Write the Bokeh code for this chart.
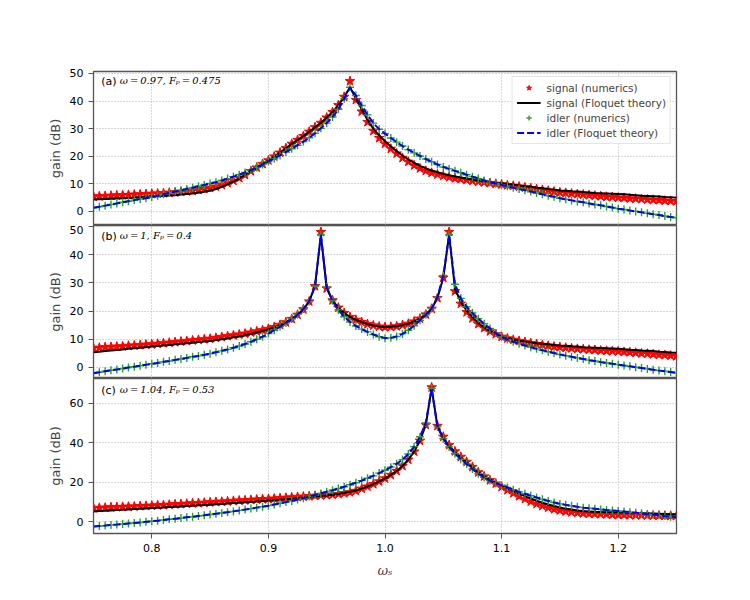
import numpy as np
from bokeh.plotting import figure
from bokeh.layouts import column
from bokeh.models import FixedTicker, Label, Legend, LegendItem, Range1d
from bokeh.embed import file_html
from bokeh.resources import INLINE

# signal frequency grid (omega_s), 0.75 ... 1.25 in steps of 0.005
omega_s = np.round(0.75 + 0.005 * np.arange(101), 3)

# ---------------- panel (a): omega = 0.97, F_p = 0.475 ----------------
a_sig_num = [5.4, 5.5, 5.6, 5.7, 5.8, 5.9, 6.0, 6.1, 6.2, 6.3,
             6.4, 6.5, 6.6, 6.8, 6.9, 7.1, 7.3, 7.5, 7.8, 8.1,
             8.5, 9.0, 9.6, 10.3, 11.1, 12.1, 13.2, 14.6, 15.9, 17.2,
             18.5, 19.9, 21.3, 22.9, 24.5, 25.9, 27.3, 28.9, 30.5, 32.1,
             34.0, 36.0, 38.5, 41.5, 47.2, 40.4, 36.2, 32.4, 29.2, 26.6,
             24.5, 22.7, 21.0, 19.4, 18.0, 16.7, 15.6, 14.7, 14.0, 13.4,
             12.9, 12.4, 12.0, 11.7, 11.4, 11.1, 10.8, 10.5, 10.3, 10.0,
             9.8, 9.5, 9.3, 9.0, 8.7, 8.4, 8.1, 7.8, 7.5, 7.2,
             6.9, 6.7, 6.5, 6.3, 6.1, 5.9, 5.7, 5.5, 5.3, 5.2,
             5.0, 4.9, 4.7, 4.6, 4.5, 4.3, 4.2, 4.1, 3.9, 3.8, 3.7]
a_sig_flq = [4.3, 4.4, 4.5, 4.6, 4.7, 4.8, 4.9, 5.0, 5.1, 5.2,
             5.4, 5.5, 5.6, 5.8, 5.9, 6.1, 6.3, 6.5, 6.8, 7.1,
             7.5, 8.1, 8.9, 9.8, 10.8, 12.0, 13.3, 14.6, 15.9, 17.2,
             18.5, 19.9, 21.3, 22.9, 24.5, 25.9, 27.3, 28.9, 30.5, 32.1,
             34.0, 36.0, 38.5, 41.5, 45.0, 41.0, 37.0, 33.2, 30.0, 27.5,
             25.4, 23.5, 21.8, 20.2, 18.8, 17.6, 16.5, 15.6, 14.8, 14.2,
             13.6, 13.1, 12.7, 12.3, 11.9, 11.6, 11.2, 10.9, 10.6, 10.4,
             10.2, 9.9, 9.7, 9.4, 9.1, 8.9, 8.6, 8.4, 8.1, 7.9,
             7.6, 7.5, 7.3, 7.2, 7.0, 6.9, 6.7, 6.6, 6.5, 6.4,
             6.3, 6.2, 6.0, 5.9, 5.7, 5.6, 5.5, 5.4, 5.2, 5.1, 5.0]
a_idl = [1.3, 1.7, 2.1, 2.5, 2.9, 3.3, 3.7, 4.1, 4.5, 4.8,
         5.2, 5.7, 6.2, 6.7, 7.2, 7.6, 8.1, 8.6, 9.1, 9.6,
         10.1, 10.6, 11.2, 11.9, 12.6, 13.3, 14.1, 15.0, 15.9, 17.0,
         18.1, 19.2, 20.3, 21.5, 22.7, 24.0, 25.3, 26.7, 28.3, 30.1,
         32.0, 34.2, 37.0, 40.8, 45.0, 42.0, 38.4, 35.0, 32.0, 29.8,
         28.2, 26.6, 25.1, 23.7, 22.4, 21.2, 20.1, 19.0, 18.0, 17.0,
         16.1, 15.4, 14.7, 14.0, 13.3, 12.6, 11.9, 11.2, 10.6, 10.1,
         9.6, 9.1, 8.6, 8.1, 7.7, 7.2, 6.7, 6.2, 5.7, 5.3,
         4.8, 4.4, 4.0, 3.6, 3.3, 2.9, 2.5, 2.2, 1.8, 1.4,
         1.0, 0.7, 0.3, 0.0, -0.3, -0.7, -1.0, -1.3, -1.7, -2.0, -2.3]

# ---------------- panel (b): omega = 1, F_p = 0.4 ----------------
b_sig_num = [6.9, 7.0, 7.2, 7.3, 7.4, 7.5, 7.7, 7.8, 7.9, 8.1,
             8.2, 8.4, 8.6, 8.8, 9.0, 9.2, 9.4, 9.6, 9.8, 10.0,
             10.2, 10.5, 10.8, 11.1, 11.4, 11.7, 12.0, 12.4, 12.8, 13.2,
             13.7, 14.3, 15.1, 16.0, 17.2, 18.7, 20.6, 23.4, 28.8, 48.0,
             28.0, 23.8, 21.2, 19.3, 17.9, 16.9, 16.1, 15.4, 14.9, 14.5,
             14.3, 14.4, 14.6, 15.0, 15.5, 16.3, 17.3, 18.8, 20.8, 24.6,
             31.8, 48.0, 27.0, 22.6, 19.6, 17.4, 15.4, 14.0, 12.8, 11.8,
             10.9, 10.3, 9.8, 9.4, 9.0, 8.6, 8.3, 8.0, 7.7, 7.4,
             7.2, 7.0, 6.8, 6.6, 6.5, 6.3, 6.2, 6.0, 5.9, 5.8,
             5.7, 5.5, 5.4, 5.2, 5.0, 4.9, 4.7, 4.5, 4.4, 4.2, 4.0]
b_sig_flq = [5.4, 5.6, 5.8, 6.0, 6.2, 6.4, 6.6, 6.8, 7.0, 7.2,
             7.4, 7.6, 7.8, 8.0, 8.2, 8.4, 8.6, 8.8, 9.0, 9.2,
             9.4, 9.7, 10.0, 10.3, 10.7, 11.0, 11.4, 11.9, 12.4, 12.9,
             13.5, 14.2, 15.0, 16.0, 17.2, 18.7, 20.6, 23.4, 28.8, 47.0,
             28.0, 23.8, 21.2, 19.3, 17.9, 16.9, 16.1, 15.4, 14.9, 14.5,
             14.3, 14.4, 14.6, 15.0, 15.5, 16.3, 17.3, 18.8, 20.8, 24.6,
             31.8, 47.0, 27.9, 23.2, 20.2, 17.9, 15.8, 14.3, 13.0, 11.9,
             11.0, 10.4, 9.9, 9.5, 9.2, 8.9, 8.6, 8.4, 8.2, 8.0,
             7.8, 7.7, 7.5, 7.4, 7.2, 7.1, 7.0, 6.9, 6.8, 6.7,
             6.6, 6.5, 6.3, 6.2, 6.0, 5.9, 5.8, 5.6, 5.5, 5.3, 5.2]
b_idl = [-2.0, -1.7, -1.3, -1.0, -0.7, -0.4, 0.0, 0.3, 0.6, 1.0,
         1.3, 1.6, 2.0, 2.3, 2.7, 3.0, 3.4, 3.8, 4.1, 4.5,
         4.9, 5.4, 5.9, 6.4, 7.0, 7.6, 8.3, 9.1, 10.0, 10.9,
         12.0, 13.2, 14.5, 15.8, 17.2, 18.8, 20.7, 23.4, 28.8, 47.0,
         28.5, 23.6, 20.4, 18.0, 16.1, 14.7, 13.6, 12.6, 11.7, 10.9,
         10.4, 10.5, 11.0, 11.9, 13.2, 14.8, 16.7, 18.7, 20.9, 24.9,
         32.6, 47.0, 29.5, 24.5, 21.5, 19.3, 17.3, 15.5, 13.8, 12.2,
         10.8, 9.9, 9.1, 8.4, 7.8, 7.2, 6.6, 6.1, 5.6, 5.1,
         4.6, 4.2, 3.8, 3.4, 3.0, 2.6, 2.3, 1.9, 1.6, 1.3,
         1.0, 0.7, 0.4, 0.1, -0.2, -0.5, -0.8, -1.1, -1.3, -1.6, -1.9]

# ---------------- panel (c): omega = 1.04, F_p = 0.53 ----------------
c_sig_num = [6.9, 7.0, 7.1, 7.3, 7.4, 7.5, 7.6, 7.7, 7.9, 8.0,
             8.1, 8.3, 8.4, 8.6, 8.8, 8.9, 9.1, 9.3, 9.4, 9.6,
             9.8, 10.0, 10.1, 10.3, 10.5, 10.7, 10.8, 11.0, 11.2, 11.4,
             11.5, 11.7, 11.9, 12.1, 12.3, 12.5, 12.7, 12.9, 13.1, 13.3,
             13.5, 13.7, 14.0, 14.4, 14.9, 15.6, 16.7, 17.8, 19.0, 20.4,
             21.9, 23.7, 25.7, 28.2, 31.4, 35.5, 41.0, 49.0, 68.0, 48.5,
             43.0, 38.8, 35.6, 32.8, 30.3, 27.7, 25.0, 22.9, 21.0, 19.3,
             17.6, 16.0, 14.4, 12.9, 11.5, 10.2, 9.0, 8.0, 7.1, 6.3,
             5.7, 5.2, 4.8, 4.5, 4.2, 4.0, 3.9, 3.8, 3.7, 3.5,
             3.4, 3.4, 3.3, 3.3, 3.2, 3.2, 3.1, 3.1, 3.0, 3.0, 3.0]
c_sig_flq = [5.2, 5.4, 5.5, 5.7, 5.9, 6.0, 6.2, 6.4, 6.5, 6.7,
             6.9, 7.1, 7.2, 7.4, 7.6, 7.7, 7.9, 8.1, 8.3, 8.4,
             8.6, 8.8, 9.0, 9.2, 9.4, 9.6, 9.8, 10.0, 10.2, 10.5,
             10.7, 10.9, 11.1, 11.4, 11.6, 11.9, 12.2, 12.5, 12.8, 13.0,
             13.3, 13.6, 14.0, 14.5, 15.1, 15.8, 16.7, 17.8, 19.0, 20.4,
             21.9, 23.7, 25.7, 28.2, 31.4, 35.5, 41.0, 49.0, 67.5, 48.2,
             42.5, 38.4, 35.2, 32.5, 30.1, 27.5, 25.0, 23.1, 21.4, 19.8,
             18.3, 16.9, 15.5, 14.2, 12.9, 11.7, 10.6, 9.6, 8.7, 7.9,
             7.2, 6.6, 6.1, 5.7, 5.4, 5.2, 5.0, 4.9, 4.8, 4.8,
             4.7, 4.6, 4.5, 4.4, 4.3, 4.2, 4.1, 4.0, 3.9, 3.8, 3.7]
c_idl = [-2.5, -2.2, -2.0, -1.7, -1.5, -1.2, -0.9, -0.7, -0.4, -0.1,
         0.2, 0.5, 0.8, 1.2, 1.5, 1.8, 2.2, 2.5, 2.9, 3.2,
         3.6, 4.0, 4.4, 4.8, 5.2, 5.7, 6.1, 6.6, 7.1, 7.6,
         8.1, 8.7, 9.3, 9.9, 10.5, 11.2, 11.9, 12.7, 13.5, 14.3,
         15.1, 15.9, 16.8, 17.7, 18.7, 19.7, 20.8, 22.0, 23.2, 24.6,
         26.0, 27.6, 29.3, 31.4, 34.3, 38.0, 43.0, 50.0, 67.5, 48.0,
         42.0, 37.8, 34.4, 31.6, 29.2, 26.7, 24.3, 22.4, 20.8, 19.5,
         18.4, 17.3, 16.2, 15.1, 14.1, 13.1, 12.2, 11.3, 10.5, 9.7,
         9.0, 8.5, 8.0, 7.5, 7.1, 6.8, 6.5, 6.2, 5.9, 5.7,
         5.4, 5.1, 4.8, 4.5, 4.2, 3.8, 3.5, 3.2, 2.8, 2.5, 2.2]

x_ticks = [0.8, 0.9, 1.0, 1.1, 1.2]
x_tick_labels = ["0.8", "0.9", "1.0", "1.1", "1.2"]

TS = "\u2009"  # thin space, as in the math-mode annotation
panels = [
    dict(sig_num=a_sig_num, sig_flq=a_sig_flq, idl=a_idl, yr=(-5.1, 50.7),
         yticks=[0, 10, 20, 30, 40, 50], tag="(a)",
         params=f"ω{TS}={TS}0.97, Fₚ{TS}={TS}0.475",
         ytext=49.4, fh=154, top=71, bottom=0, last=False, legend=True),
    dict(sig_num=b_sig_num, sig_flq=b_sig_flq, idl=b_idl, yr=(-3.9, 50.3),
         yticks=[0, 10, 20, 30, 40, 50], tag="(b)",
         params=f"ω{TS}={TS}1, Fₚ{TS}={TS}0.4",
         ytext=48.8, fh=153, top=0, bottom=0, last=False, legend=False),
    dict(sig_num=c_sig_num, sig_flq=c_sig_flq, idl=c_idl, yr=(-6.0, 72.5),
         yticks=[0, 20, 40, 60], tag="(c)",
         params=f"ω{TS}={TS}1.04, Fₚ{TS}={TS}0.53",
         ytext=69.8, fh=155, top=0, bottom=60, last=True, legend=False),
]

FONT = "DejaVu Sans"
figs = []
for cfg in panels:
    p = figure(frame_width=583, frame_height=cfg["fh"],
               x_range=Range1d(0.75, 1.25), y_range=Range1d(*cfg["yr"]),
               output_backend="svg", toolbar_location=None,
               min_border_left=93, min_border_right=50,
               min_border_top=cfg["top"], min_border_bottom=cfg["bottom"])
    p.background_fill_color = "white"
    p.outline_line_color = "#555555"
    p.outline_line_width = 1.3

    r1 = p.scatter(omega_s, cfg["sig_num"], marker="star", size=10,
                   fill_color="red", line_color="red", line_width=1)
    r2 = p.line(omega_s, cfg["sig_flq"], line_color="black", line_width=2)
    r3 = p.scatter(omega_s, cfg["idl"], marker="cross", size=8,
                   line_color="#2ca02c", line_width=1.4)
    r4 = p.line(omega_s, cfg["idl"], line_color="blue", line_width=2,
                line_dash="7 3")

    p.yaxis.ticker = FixedTicker(ticks=cfg["yticks"])
    p.ygrid.ticker = FixedTicker(ticks=cfg["yticks"])
    p.xaxis.ticker = FixedTicker(ticks=x_ticks)
    p.xgrid.ticker = FixedTicker(ticks=x_ticks)
    p.xaxis.major_label_overrides = dict(zip(x_ticks, x_tick_labels))
    for g in (p.xgrid, p.ygrid):
        g.grid_line_color = "#b0b0b0"
        g.grid_line_dash = "1 2"
        g.grid_line_width = 1

    for ax in (p.xaxis, p.yaxis):
        ax.major_label_text_font = FONT
        ax.major_label_text_font_size = "11px"
        ax.major_label_text_color = "black"
        ax.major_tick_out = 5
        ax.major_tick_in = 0
        ax.minor_tick_line_color = None
        ax.axis_line_color = "#555555"
        ax.major_tick_line_color = "#555555"

    p.yaxis.axis_label = "gain (dB)"
    p.yaxis.axis_label_text_font = FONT
    p.yaxis.axis_label_text_font_size = "13px"
    p.yaxis.axis_label_text_font_style = "normal"
    p.yaxis.axis_label_standoff = 4

    if cfg["last"]:
        p.xaxis.axis_label = "ωₛ"
        p.xaxis.axis_label_text_font = "DejaVu Serif"
        p.xaxis.axis_label_text_font_style = "italic"
        p.xaxis.axis_label_text_font_size = "13px"
        p.xaxis.axis_label_standoff = 8
        p.xaxis.major_label_standoff = 5
    else:
        p.xaxis.visible = False

    p.add_layout(Label(x=0.7566, y=cfg["ytext"], text=cfg["tag"],
                       text_baseline="top", text_font=FONT,
                       text_font_size="11px", text_color="black"))
    p.add_layout(Label(x=0.7725, y=cfg["ytext"], text=cfg["params"],
                       text_baseline="top", text_font="DejaVu Serif",
                       text_font_style="italic",
                       text_font_size="10px", text_color="black"))

    if cfg["legend"]:
        legend = Legend(items=[
            LegendItem(label="signal (numerics)", renderers=[r1]),
            LegendItem(label="signal (Floquet theory)", renderers=[r2]),
            LegendItem(label="idler (numerics)", renderers=[r3]),
            LegendItem(label="idler (Floquet theory)", renderers=[r4]),
        ], location="top_right")
        legend.label_text_font = FONT
        legend.label_text_font_size = "10.5px"
        legend.glyph_width = 24
        legend.glyph_height = 13
        legend.label_height = 13
        legend.label_standoff = 6
        legend.spacing = 2
        legend.padding = 4
        legend.margin = 5
        legend.border_line_color = "#cccccc"
        legend.background_fill_alpha = 0.8
        p.add_layout(legend)
    figs.append(p)

layout = column(*figs, spacing=0)
open("out.html", "w").write(file_html(layout, INLINE))
